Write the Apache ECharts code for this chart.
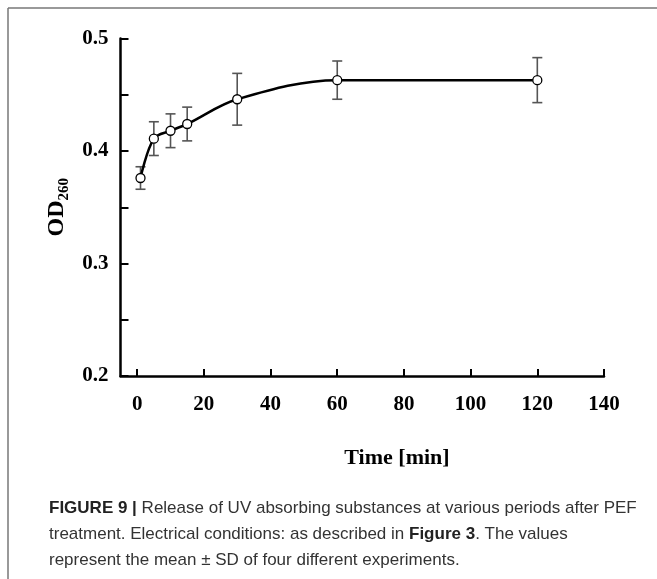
<!DOCTYPE html>
<html>
<head>
<meta charset="utf-8">
<script src="https://cdn.jsdelivr.net/npm/echarts@6/dist/echarts.min.js"></script>
<style>
html,body{margin:0;padding:0;background:#fff;}
#chart{width:657px;height:579px;}
</style>
</head>
<body>
<div id="chart"></div>
<script>
// ---- data ----
var timeMin = [1, 5, 10, 15, 30, 60, 120];
var od260 = [0.376, 0.411, 0.418, 0.424, 0.446, 0.463, 0.463];
var sdValues = [0.010, 0.015, 0.015, 0.015, 0.023, 0.017, 0.020];
var xTickLabels = [0, 20, 40, 60, 80, 100, 120, 140];
var yTickLabels = [0.2, 0.3, 0.4, 0.5];

var serif = "'Liberation Serif','Times New Roman',serif";
var sans = "'Liberation Sans',Arial,Helvetica,sans-serif";

var lineData = timeMin.map(function (t, i) { return [t, od260[i]]; });
var errData = timeMin.map(function (t, i) { return [t, od260[i] - sdValues[i], od260[i] + sdValues[i]]; });

var chart = echarts.init(document.getElementById('chart'), null, {renderer: 'canvas'});
chart.setOption({
  backgroundColor: '#fff',
  animation: false,
  grid: {left: 120.5, right: 53, top: 38.5, bottom: 203, containLabel: false},
  xAxis: {
    type: 'value', min: -5, max: 140,
    axisLine: {show: true, onZero: false, lineStyle: {color: '#000', width: 2.5}},
    axisTick: {show: true, inside: true, length: 7, lineStyle: {color: '#000', width: 2}, customValues: xTickLabels},
    axisLabel: {show: true, customValues: xTickLabels, margin: 18, color: '#000', fontFamily: serif, fontWeight: 'bold', fontSize: 21},
    splitLine: {show: false}
  },
  yAxis: {
    type: 'value', min: 0.2, max: 0.5, interval: 0.1,
    axisLine: {show: true, onZero: false, lineStyle: {color: '#000', width: 2.5}},
    axisTick: {show: true, inside: true, length: 8, lineStyle: {color: '#000', width: 2}},
    minorTick: {show: true, splitNumber: 2, length: 8, lineStyle: {color: '#000', width: 2}},
    axisLabel: {show: true, margin: 12, color: '#000', fontFamily: serif, fontWeight: 'bold', fontSize: 21,
      customValues: yTickLabels,
      formatter: function (v) { return v.toFixed(1); }},
    splitLine: {show: false},
    minorSplitLine: {show: false},
    name: '{a|OD}{s|260}',
    nameLocation: 'middle', nameRotate: 90, nameGap: 52,
    nameTextStyle: {
      rich: {
        a: {fontFamily: serif, fontWeight: 'bold', fontSize: 24, color: '#000', verticalAlign: 'bottom'},
        s: {fontFamily: serif, fontWeight: 'bold', fontSize: 15, color: '#000', verticalAlign: 'bottom', padding: [0, 0, -3, 0]}
      }
    }
  },
  series: [
    {
      type: 'custom', z: 1,
      data: errData,
      renderItem: function (params, api) {
        var x = api.value(0), lo = api.value(1), hi = api.value(2);
        var pLo = api.coord([x, lo]);
        var pHi = api.coord([x, hi]);
        var w = 5;
        var st = {stroke: '#555', lineWidth: 1.6};
        return {
          type: 'group',
          children: [
            {type: 'line', shape: {x1: pLo[0], y1: pLo[1], x2: pHi[0], y2: pHi[1]}, style: st},
            {type: 'line', shape: {x1: pLo[0] - w, y1: pLo[1], x2: pLo[0] + w, y2: pLo[1]}, style: st},
            {type: 'line', shape: {x1: pHi[0] - w, y1: pHi[1], x2: pHi[0] + w, y2: pHi[1]}, style: st}
          ]
        };
      }
    },
    {
      type: 'line', z: 3,
      data: lineData,
      smooth: 0.35,
      symbol: 'circle', symbolSize: 9,
      showAllSymbol: true,
      lineStyle: {color: '#000', width: 2.5},
      itemStyle: {color: '#fff', borderColor: '#000', borderWidth: 1.3}
    }
  ],
  graphic: [
    {type: 'line', shape: {x1: 8, y1: 8, x2: 657, y2: 8}, style: {stroke: '#777', lineWidth: 1.5}},
    {type: 'line', shape: {x1: 8, y1: 8, x2: 8, y2: 579}, style: {stroke: '#777', lineWidth: 1.5}},
    {type: 'text', x: 397, y: 458,
      style: {text: 'Time [min]', fontFamily: serif, fontWeight: 'bold', fontSize: 22, fill: '#000', align: 'center', verticalAlign: 'middle'}},
    {type: 'text', x: 49, y: 495,
      style: {
        text: '{b|FIGURE 9 |} Release of UV absorbing substances at various periods after PEF\ntreatment. Electrical conditions: as described in {b|Figure 3}. The values\nrepresent the mean \u00b1 SD of four different experiments.',
        fontFamily: sans, fontSize: 17, fill: '#333', lineHeight: 26, align: 'left', verticalAlign: 'top',
        rich: {b: {fontFamily: sans, fontSize: 17, fontWeight: 'bold', fill: '#222', lineHeight: 26}}
      }}
  ]
});
</script>
</body>
</html>
